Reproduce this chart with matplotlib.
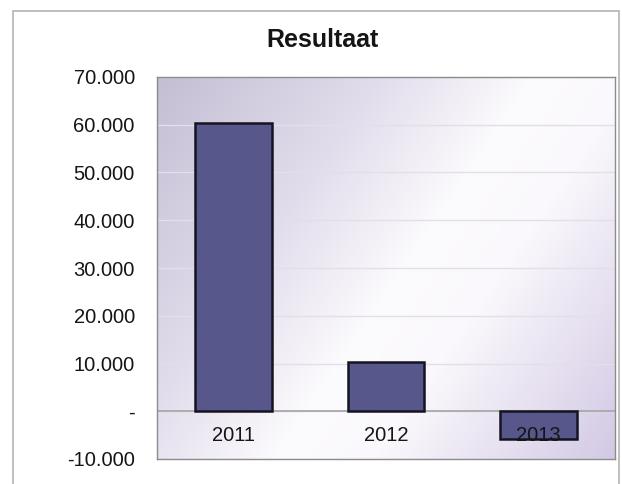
import numpy as np
import matplotlib.pyplot as plt
from matplotlib.patches import Rectangle
from matplotlib.ticker import FuncFormatter, MultipleLocator

plt.rcParams['font.family'] = ['Liberation Sans', 'DejaVu Sans']

jaren = ['2011', '2012', '2013']
resultaat = [60300, 10400, -5800]

W, H = 622, 484
fig = plt.figure(figsize=(W / 100, H / 100), dpi=100)
fig.patch.set_facecolor('white')

# plot area in pixels
x0, x1, y0, y1 = 157, 615, 77, 459
ax = fig.add_axes([x0 / W, 1 - y1 / H, (x1 - x0) / W, (y1 - y0) / H])

# diagonal lavender -> white -> lavender fill behind the bars
cols = np.arange(x1 - x0) + x0
rows = np.arange(y1 - y0) + y0
px, py = np.meshgrid(cols, rows)
n = np.array([0.825, 0.565])
t = (px - 430) * n[0] + (py - 270) * n[1]
stops_t = [-340, -150, -20, 60, 260]
stops_c = np.array([
    [194, 189, 210],
    [226, 221, 236],
    [252, 251, 253],
    [250, 248, 252],
    [210, 200, 228],
]) / 255.0
img = np.stack([np.interp(t, stops_t, stops_c[:, k]) for k in range(3)], axis=-1)
ax.imshow(img, extent=(-0.5, 2.5, -10000, 70000), origin='upper',
          aspect='auto', zorder=0, interpolation='bilinear')

x = np.arange(len(jaren))
ax.bar(x, resultaat, width=0.5, color='#57578b', edgecolor='#141420',
       linewidth=1.8, zorder=3)

ax.set_xlim(-0.5, 2.5)
ax.set_ylim(-10000, 70000)
ax.yaxis.set_major_locator(MultipleLocator(10000))
ax.yaxis.set_major_formatter(FuncFormatter(
    lambda v, pos: '-' if v == 0 else f'{v:,.0f}'.replace(',', '.')))
ax.yaxis.grid(True, color=(0.89, 0.87, 0.91), lw=1, zorder=1)
ax.set_axisbelow(True)
ax.axhline(0, color='#a4a4a4', lw=1.2, zorder=2)

ax.set_xticks([])
ax.tick_params(axis='y', length=0, pad=16, labelsize=14.5, labelcolor='#151515')
for s in ax.spines.values():
    s.set_color('#8c8c8c')
    s.set_linewidth(1)

# category labels sit just under the zero line
for i, lab in enumerate(jaren):
    ax.annotate(lab, (i, 0), xytext=(0, -17.5), textcoords='offset points',
                ha='center', va='center', fontsize=14.5, color='#151515', zorder=5)

fig.text(323 / W, 1 - 40 / H, 'Resultaat', ha='center', va='center',
         fontsize=18, fontweight='bold', color='#151515')

# outer chart frame
fig.add_artist(Rectangle((13 / W, -0.1), (619 - 13) / W, 1 - 11 / H + 0.1,
                         transform=fig.transFigure, fill=False,
                         ec='#b4b4b4', lw=1.2))

fig.savefig('out.png', dpi=100)
